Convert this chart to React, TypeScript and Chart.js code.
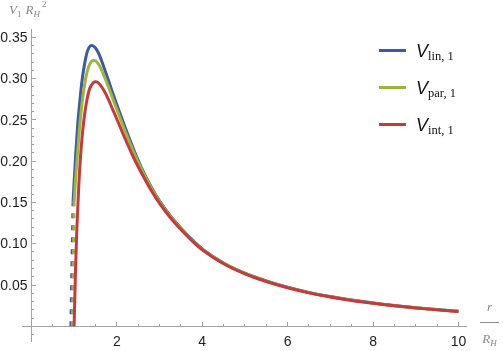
import React, { useEffect, useRef } from "react";
import { Chart, registerables } from "chart.js";

Chart.register(...registerables);

// ---- data ----
const rLin = [0.975, 1.0, 1.04, 1.08, 1.12, 1.16, 1.2, 1.25, 1.3, 1.35, 1.4, 1.45, 1.5, 1.55, 1.6, 1.7, 1.8, 1.9, 2.0, 2.2, 2.4, 2.6, 2.8, 3.0, 3.25, 3.5, 3.75, 4.0, 4.5, 5.0, 5.5, 6.0, 6.5, 7.0, 7.5, 8.0, 8.5, 9.0, 9.5, 10.0];
const vLin = [0.150, 0.174, 0.210, 0.241, 0.265, 0.286, 0.303, 0.319, 0.331, 0.3375, 0.340, 0.3395, 0.337, 0.333, 0.3275, 0.3135, 0.2985, 0.283, 0.2685, 0.240, 0.2135, 0.1895, 0.1693, 0.1518, 0.134, 0.119, 0.1055, 0.0938, 0.0767, 0.0643, 0.0549, 0.0473, 0.041, 0.036, 0.0318, 0.0283, 0.0252, 0.0226, 0.0203, 0.0183];
const rLinDash = [0.925, 0.975];
const vLinDash = [0.0, 0.150];

const rPar = [1.0, 1.04, 1.085, 1.12, 1.16, 1.2, 1.25, 1.3, 1.35, 1.4, 1.45, 1.5, 1.55, 1.6, 1.7, 1.8, 1.9, 2.0, 2.2, 2.4, 2.6, 2.8, 3.0, 3.25, 3.5, 3.75, 4.0, 4.5, 5.0, 5.5, 6.0, 6.5, 7.0, 7.5, 8.0, 8.5, 9.0, 9.5, 10.0];
const vPar = [0.150, 0.183, 0.213, 0.236, 0.258, 0.276, 0.294, 0.307, 0.3155, 0.3205, 0.322, 0.3215, 0.319, 0.315, 0.3035, 0.2905, 0.2765, 0.263, 0.2355, 0.2105, 0.1878, 0.1682, 0.151, 0.1333, 0.1183, 0.1048, 0.0932, 0.0762, 0.064, 0.0547, 0.0471, 0.0408, 0.0358, 0.0316, 0.0281, 0.025, 0.0224, 0.0201, 0.0181];
const rParDash = [0.96, 1.0];
const vParDash = [0.0, 0.150];

const rInt = [1.0, 1.03, 1.06, 1.1, 1.15, 1.2, 1.25, 1.3, 1.35, 1.4, 1.45, 1.5, 1.55, 1.6, 1.7, 1.8, 1.9, 2.0, 2.2, 2.4, 2.6, 2.8, 3.0, 3.25, 3.5, 3.75, 4.0, 4.5, 5.0, 5.5, 6.0, 6.5, 7.0, 7.5, 8.0, 8.5, 9.0, 9.5, 10.0];
const vInt = [0.0, 0.062, 0.112, 0.160, 0.205, 0.236, 0.258, 0.274, 0.2855, 0.2915, 0.295, 0.296, 0.2955, 0.293, 0.2855, 0.275, 0.263, 0.251, 0.2265, 0.2035, 0.1835, 0.165, 0.1488, 0.1318, 0.1172, 0.104, 0.0925, 0.0757, 0.0635, 0.0542, 0.0467, 0.0405, 0.0356, 0.0313, 0.0278, 0.0248, 0.0222, 0.0199, 0.0179];

const xMajorTicks = [2, 4, 6, 8, 10];
const xTickLabels = ["2", "4", "6", "8", "10"];
const yMajorTicks = [0.05, 0.1, 0.15, 0.2, 0.25, 0.3, 0.35];
const yTickLabels = ["0.05", "0.10", "0.15", "0.20", "0.25", "0.30", "0.35"];
const xMinorStep = 0.5;
const yMinorStep = 0.01;

const seriesNames = ["lin, 1", "par, 1", "int, 1"];
const BLUE = "#3b5ba4";
const GREEN = "#9db43f";
const RED = "#c63a3b";
const seriesColors = [BLUE, GREEN, RED];

const AXIS = "#a3a3a3";

const pts = (xs: number[], ys: number[]) => xs.map((x, i) => ({ x, y: ys[i] }));

const axesPlugin = {
  id: "mathAxes",
  beforeDatasetsDraw(chart: any) {
    const { ctx, chartArea } = chart;
    const xs = chart.scales.x;
    const ys = chart.scales.y;
    const x0 = Math.floor(xs.getPixelForValue(0)) + 0.5;
    const y0 = Math.floor(ys.getPixelForValue(0)) + 0.5;
    ctx.save();
    ctx.strokeStyle = AXIS;
    ctx.lineWidth = 1;
    ctx.beginPath();
    ctx.moveTo(chartArea.left, y0);
    ctx.lineTo(chartArea.right, y0);
    ctx.moveTo(x0, chartArea.top);
    ctx.lineTo(x0, chartArea.bottom);
    ctx.stroke();
    // x ticks
    ctx.beginPath();
    for (let v = xMinorStep; v <= 10.0001; v += xMinorStep) {
      const px = Math.floor(xs.getPixelForValue(v)) + 0.5;
      const major = Math.abs(v - Math.round(v / 2) * 2) < 1e-6;
      const len = major ? 4.5 : 2.5;
      ctx.moveTo(px, y0);
      ctx.lineTo(px, y0 - len);
    }
    // y ticks
    for (let k = -1; k <= 35; k++) {
      if (k === 0) continue;
      const v = k * yMinorStep;
      const py = Math.floor(ys.getPixelForValue(v)) + 0.5;
      const major = k % 5 === 0;
      const len = major ? 4.5 : 2.5;
      ctx.moveTo(x0, py);
      ctx.lineTo(x0 + len, py);
    }
    ctx.stroke();
    // labels
    ctx.fillStyle = "#1e1e1e";
    ctx.font = '14px "Liberation Sans", Arial, sans-serif';
    ctx.textAlign = "center";
    ctx.textBaseline = "alphabetic";
    xMajorTicks.forEach((v, i) => {
      ctx.fillText(xTickLabels[i], xs.getPixelForValue(v), 345.5);
    });
    ctx.textAlign = "right";
    ctx.textBaseline = "middle";
    yMajorTicks.forEach((v, i) => {
      ctx.fillText(yTickLabels[i], x0 - 4, ys.getPixelForValue(v) + 0.8);
    });
    ctx.restore();
  },
};

export default function App() {
  const ref = useRef<HTMLCanvasElement | null>(null);
  useEffect(() => {
    if (!ref.current) return;
    const common = {
      borderWidth: 3,
      pointRadius: 0,
      pointHoverRadius: 0,
      fill: false,
      showLine: true,
    };
    const chart = new Chart(ref.current, {
      type: "line",
      data: {
        datasets: [
          { ...common, label: "int", data: pts(rInt, vInt), borderColor: RED, cubicInterpolationMode: "monotone", order: 0 },
          { ...common, label: "par", data: pts(rPar, vPar), borderColor: GREEN, cubicInterpolationMode: "monotone", order: 1 },
          { ...common, label: "parDash", data: pts(rParDash, vParDash), borderColor: GREEN, borderDash: [5, 7], order: 1 },
          { ...common, label: "lin", data: pts(rLin, vLin), borderColor: BLUE, cubicInterpolationMode: "monotone", order: 2 },
          { ...common, label: "linDash", data: pts(rLinDash, vLinDash), borderColor: BLUE, borderDash: [5, 7], order: 2 },
        ] as any,
      },
      options: {
        animation: false,
        responsive: false,
        devicePixelRatio: 1,
        layout: { padding: { left: 22, right: 36, top: 29, bottom: 9 } },
        plugins: { legend: { display: false }, tooltip: { enabled: false } },
        events: [],
        scales: {
          x: { type: "linear", min: -0.22, max: 10.2, display: false },
          y: { type: "linear", min: -0.019, max: 0.36, display: false },
        },
      } as any,
      plugins: [axesPlugin],
    });
    return () => chart.destroy();
  }, []);

  const gray = "#8a8a8a";
  const serif = '"Liberation Serif", "Times New Roman", serif';
  const sans = '"Liberation Sans", Arial, sans-serif';
  const legendY = [50, 87, 124.5];

  return (
    <div style={{ position: "absolute", left: 0, top: 0, width: 503, height: 351, background: "#fff" }}>
      <canvas ref={ref} width={503} height={351} style={{ position: "absolute", left: 0, top: 0, width: 503, height: 351 }} />
      {/* y axis title */}
      <div style={{ position: "absolute", left: 9, top: 3, fontFamily: serif, fontSize: 13, lineHeight: "13px", color: gray, whiteSpace: "nowrap" }}>
        <span style={{ fontStyle: "italic" }}>V</span>
        <span style={{ fontSize: 9, position: "relative", top: 3 }}>1</span>
        <span style={{ fontStyle: "italic", marginLeft: 4 }}>R</span>
        <span style={{ fontSize: 9, fontStyle: "italic", position: "relative", top: 3 }}>H</span>
        <span style={{ fontSize: 9, position: "relative", top: -7, marginLeft: 2 }}>2</span>
      </div>
      {/* x axis title */}
      <div style={{ position: "absolute", left: 480, top: 300, width: 19, fontFamily: serif, color: gray, textAlign: "center", whiteSpace: "nowrap" }}>
        <div style={{ fontSize: 13, lineHeight: "14px", fontStyle: "italic" }}>r</div>
        <div style={{ height: 1, background: gray, marginTop: 8 }} />
        <div style={{ fontSize: 13, lineHeight: "14px", marginTop: 9, fontStyle: "italic" }}>
          R<span style={{ fontSize: 9, position: "relative", top: 3 }}>H</span>
        </div>
      </div>
      {/* legend */}
      {seriesNames.map((name, i) => (
        <React.Fragment key={name}>
          <div style={{ position: "absolute", left: 379, top: legendY[i] - 1.5, width: 27, height: 3, background: seriesColors[i] }} />
          <div style={{ position: "absolute", left: 416, top: legendY[i] + 6.7 - 15.2, fontSize: 18, lineHeight: "18px", whiteSpace: "nowrap", color: "#111" }}>
            <span style={{ fontFamily: sans, fontStyle: "italic" }}>V</span>
            <span style={{ fontFamily: serif, fontSize: 12.5, position: "relative", top: 3 }}>{name}</span>
          </div>
        </React.Fragment>
      ))}
    </div>
  );
}
